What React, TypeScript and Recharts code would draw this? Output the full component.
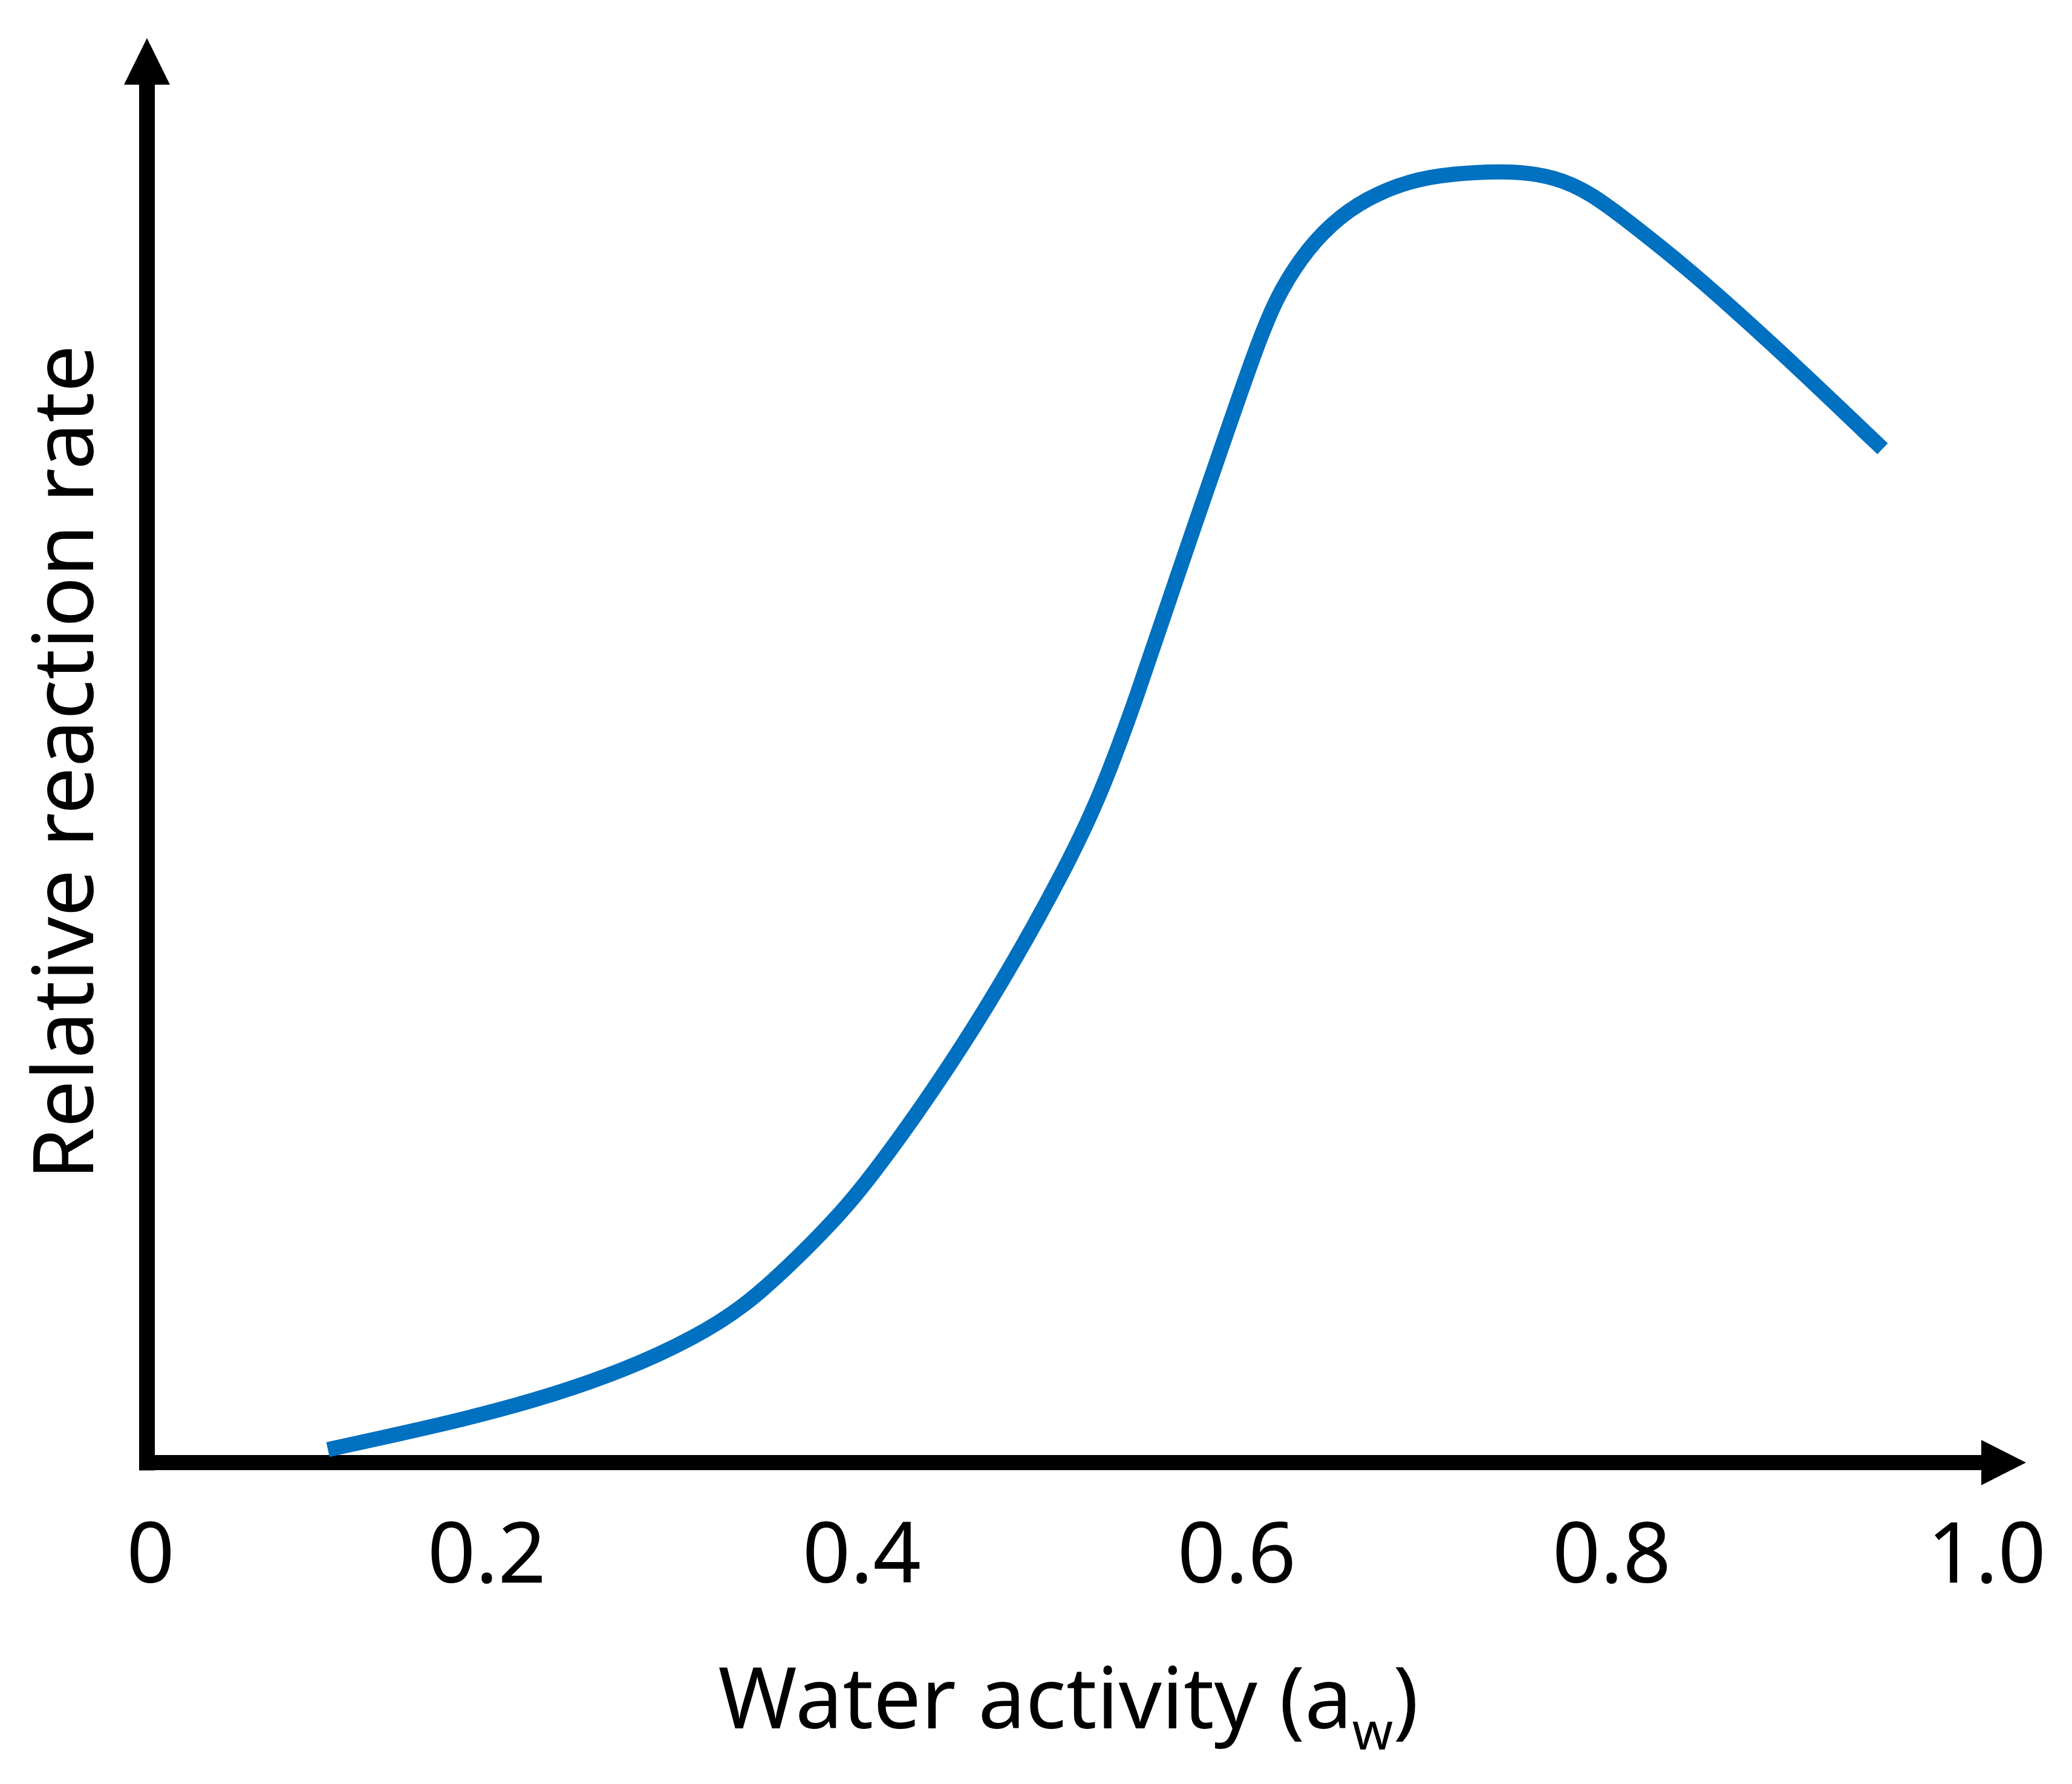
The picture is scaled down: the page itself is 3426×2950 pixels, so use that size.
import React from "react";
import {
  LineChart,
  Line,
  XAxis,
  YAxis,
  ReferenceLine,
  ReferenceDot,
} from "recharts";

// Water activity (x) values
const AW = [
  0.1152, 0.1758, 0.2252, 0.2745, 0.3113, 0.3361, 0.3606, 0.3906, 0.4058,
  0.4213, 0.4523, 0.4832, 0.5077, 0.5265, 0.5468, 0.5665, 0.5913, 0.6103,
  0.621, 0.6339, 0.65, 0.6694, 0.6929, 0.7145, 0.7468, 0.7694, 0.789, 0.8113,
  0.8361, 0.8606, 0.8855, 0.91, 0.9445,
];
// Relative reaction rate (y) values, arbitrary units (peak ~100)
const RATE = [
  1.01, 2.92, 4.75, 7.18, 9.71, 11.95, 15.09, 19.53, 22.34, 25.33, 31.84,
  39.23, 45.73, 51.3, 59.25, 67.86, 78.29, 86.25, 90.08, 93.17, 95.84, 97.85,
  99.2, 99.72, 99.95, 99.49, 98.22, 95.74, 92.89, 89.8, 86.53, 83.2, 78.43,
];
// Tick values and their labels (the first tick sits at the origin)
const X_MIN = 0.0187;
const X_ARROW_BASE = 0.9971;
const X_MAX = 1.021;
const Y_ARROW_BASE = 106.6;
const Y_MAX = 110.2;
const TICKS = [X_MIN, 0.2, 0.4, 0.6, 0.8, 1.0];
const TICK_LABELS = ["0", "0.2", "0.4", "0.6", "0.8", "1.0"];

const X_TITLE = "Water activity (a";
const X_TITLE_SUB = "w";
const X_TITLE_END = ")";
const Y_TITLE = "Relative reaction rate";

const data = AW.map((aw, i) => ({ aw, rate: RATE[i] }));

const FONT = "'Noto Sans', 'DejaVu Sans', sans-serif";

const Tick = (props: any) => {
  const { x, y, payload } = props;
  const idx = TICKS.indexOf(payload.value);
  const label = idx >= 0 ? TICK_LABELS[idx] : String(payload.value);
  return (
    <text
      x={x + (idx === 0 ? 6 : 0)}
      y={y + 198.5}
      textAnchor="middle"
      fontFamily={FONT}
      fontSize={139}
      fill="#000"
    >
      {label}
    </text>
  );
};

const XTitle = (props: any) => {
  const vb = props.viewBox || {};
  const cx = vb.x + vb.width / 2 - 30;
  const by = vb.y + 439.5;
  return (
    <text
      x={cx}
      y={by}
      textAnchor="middle"
      fontFamily={FONT}
      fontSize={140}
      fill="#000"
    >
      <tspan>{X_TITLE}</tspan>
      <tspan fontSize={86} dy={35}>
        {X_TITLE_SUB}
      </tspan>
      <tspan dy={-35}>{X_TITLE_END}</tspan>
    </text>
  );
};

const YTitle = (props: any) => {
  const vb = props.viewBox || {};
  const bx = vb.x + vb.width - 89.5;
  const cy = vb.y + vb.height / 2 + 20;
  return (
    <text
      x={bx}
      y={cy}
      transform={`rotate(-90, ${bx}, ${cy})`}
      textAnchor="middle"
      fontFamily={FONT}
      fontSize={139}
      fill="#000"
    >
      {Y_TITLE}
    </text>
  );
};

const XArrow = (props: any) => {
  const { cx, cy } = props;
  return (
    <polygon
      points={`${cx},${cy} ${cx - 74},${cy - 37.5} ${cx - 74},${cy + 37.5}`}
      fill="#000"
    />
  );
};

const YArrow = (props: any) => {
  const { cx, cy } = props;
  return (
    <polygon
      points={`${cx},${cy} ${cx - 38},${cy + 77} ${cx + 38},${cy + 77}`}
      fill="#000"
    />
  );
};

export default function App() {
  return (
    <div style={{ width: 3410, height: 2934, background: "#fff" }}>
      <LineChart
        width={3410}
        height={2934}
        data={data}
        margin={{ top: 55, right: 68, left: 135, bottom: 23.5 }}
      >
        <XAxis
          type="number"
          dataKey="aw"
          domain={[X_MIN, X_MAX]}
          allowDataOverflow
          ticks={TICKS}
          interval={0}
          tick={<Tick />}
          tickLine={false}
          axisLine={false}
          tickSize={0}
          tickMargin={0}
          height={500}
          label={{ content: <XTitle /> } as any}
        />
        <YAxis
          type="number"
          domain={[0, Y_MAX]}
          allowDataOverflow
          tick={false}
          tickLine={false}
          axisLine={false}
          width={100}
          label={{ content: <YTitle /> } as any}
        />
        <ReferenceLine
          segment={[
            { x: X_MIN, y: 0 },
            { x: X_ARROW_BASE, y: 0 },
          ]}
          stroke="#000"
          strokeWidth={25}
          strokeLinecap="square"
          ifOverflow="visible"
        />
        <ReferenceLine
          segment={[
            { x: X_MIN, y: 0 },
            { x: X_MIN, y: Y_ARROW_BASE },
          ]}
          stroke="#000"
          strokeWidth={26}
          strokeLinecap="square"
          ifOverflow="visible"
        />
        <ReferenceDot
          x={X_MAX}
          y={0}
          r={1}
          shape={<XArrow />}
          ifOverflow="visible"
        />
        <ReferenceDot
          x={X_MIN}
          y={Y_MAX}
          r={1}
          shape={<YArrow />}
          ifOverflow="visible"
        />
        <Line
          type="basis"
          dataKey="rate"
          stroke="#0070C0"
          strokeWidth={25}
          dot={false}
          activeDot={false}
          isAnimationActive={false}
        />
      </LineChart>
    </div>
  );
}
